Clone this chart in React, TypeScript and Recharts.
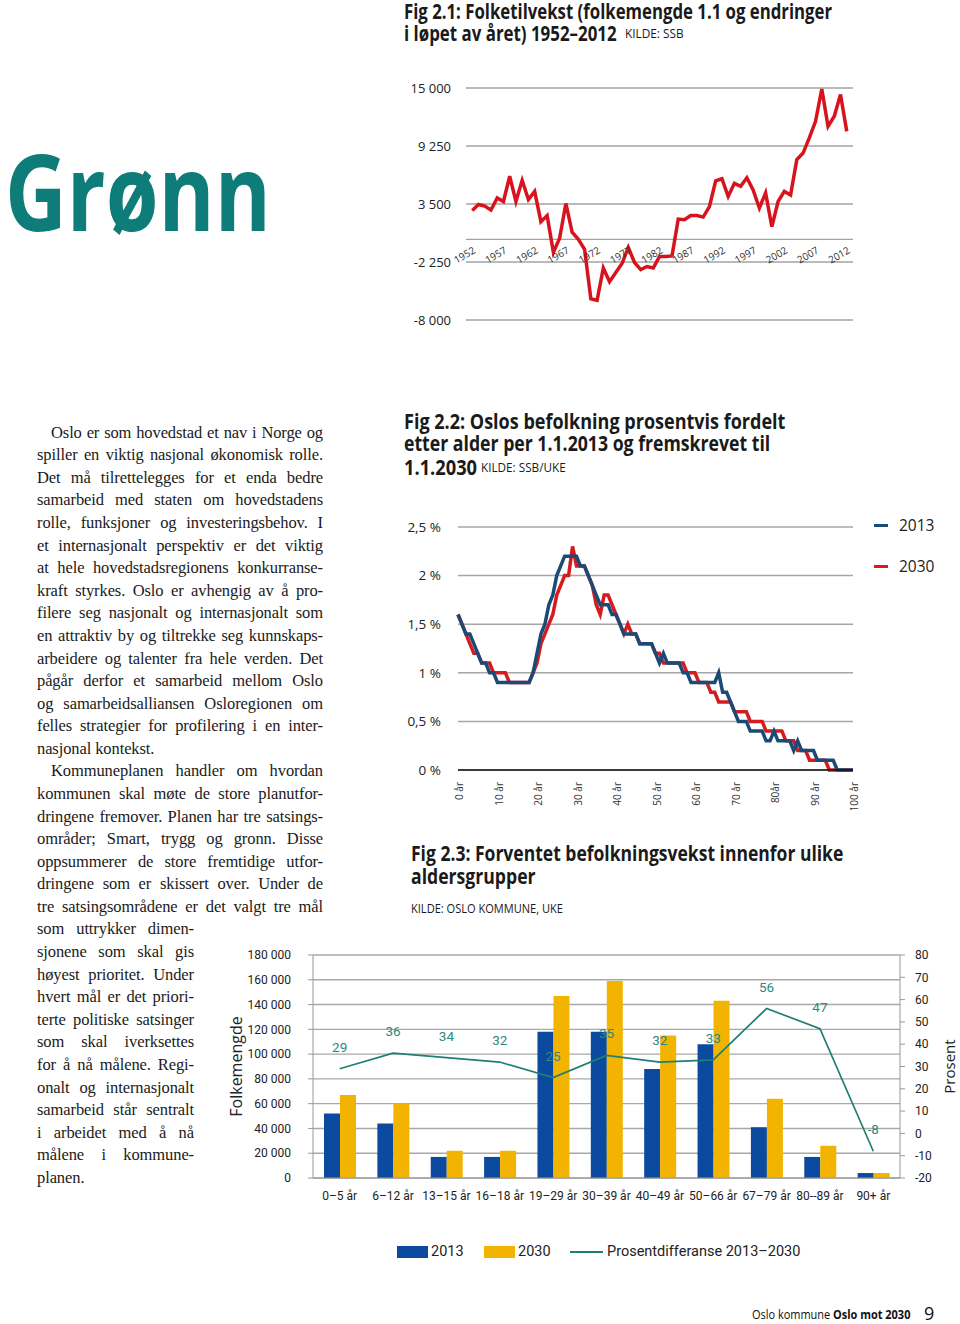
import React, { useLayoutEffect, useRef, useState } from "react";
import {
  LineChart,
  Line,
  XAxis,
  YAxis,
  CartesianGrid,
  ReferenceLine,
  ComposedChart,
  Bar,
  LabelList,
} from "recharts";

// Fig 2.1 – folketilvekst per år
const years = [
  1952, 1953, 1954, 1955, 1956, 1957, 1958, 1959, 1960, 1961, 1962, 1963, 1964,
  1965, 1966, 1967, 1968, 1969, 1970, 1971, 1972, 1973, 1974, 1975, 1976, 1977,
  1978, 1979, 1980, 1981, 1982, 1983, 1984, 1985, 1986, 1987, 1988, 1989, 1990,
  1991, 1992, 1993, 1994, 1995, 1996, 1997, 1998, 1999, 2000, 2001, 2002, 2003,
  2004, 2005, 2006, 2007, 2008, 2009, 2010, 2011, 2012,
];
const growth = [
  2850, 3450, 3300, 2900, 4100, 3750, 6250, 3750, 5850, 3950, 4750, 1750, 2350,
  -1300, 100, 3550, 700, 0, -1000, -5900, -6050, -2850, -4200, -3300, -2400, -800,
  -2300, -3000, -2700, -2850, -1700, -1700, -1650, 2000, 1950, 2350, 2350, 2200, 3250,
  5800, 6000, 4250, 5550, 5250, 6100, 4900, 3100, 4600, 1250, 3750, 4750, 4400,
  7900, 8550, 10050, 11700, 14900, 11200, 12200, 14350, 10700,
];
const growthTicks = [-8000, -2250, 3500, 9250, 15000];
const yearTicks = [1952, 1957, 1962, 1967, 1972, 1977, 1982, 1987, 1992, 1997, 2002, 2007, 2012];

// Fig 2.2 – andel av befolkningen etter alder
const ages = [
  0, 1, 2, 3, 4, 5, 6, 7, 8, 9, 10, 11, 12, 13, 14, 15, 16, 17, 18, 19, 20, 21, 22,
  23, 24, 25, 26, 27, 28, 29, 30, 31, 32, 33, 34, 35, 36, 37, 38, 39, 40, 41, 42, 43,
  44, 45, 46, 47, 48, 49, 50, 51, 52, 53, 54, 55, 56, 57, 58, 59, 60, 61, 62, 63, 64,
  65, 66, 67, 68, 69, 70, 71, 72, 73, 74, 75, 76, 77, 78, 79, 80, 81, 82, 83, 84, 85,
  86, 87, 88, 89, 90, 91, 92, 93, 94, 95, 96, 97, 98, 99, 100,
];
const share2013 = [
  1.6, 1.5, 1.4, 1.4, 1.3, 1.2, 1.1, 1.1, 1.0, 1.0, 0.9, 0.9, 0.9, 0.9, 0.9, 0.9, 0.9,
  0.9, 0.9, 1.0, 1.2, 1.4, 1.5, 1.7, 1.8, 2.0, 2.1, 2.2, 2.2, 2.2, 2.2, 2.1, 2.1, 2.0,
  1.9, 1.8, 1.7, 1.7, 1.7, 1.6, 1.6, 1.5, 1.4, 1.4, 1.4, 1.4, 1.3, 1.3, 1.3, 1.3, 1.2,
  1.1, 1.2, 1.1, 1.1, 1.1, 1.1, 1.0, 1.0, 0.9, 0.9, 0.9, 0.9, 0.9, 0.9, 0.9, 1.0, 0.8,
  0.8, 0.7, 0.6, 0.5, 0.5, 0.5, 0.4, 0.4, 0.4, 0.4, 0.3, 0.3, 0.4, 0.3, 0.3, 0.3, 0.3,
  0.2, 0.3, 0.2, 0.2, 0.2, 0.2, 0.1, 0.1, 0.1, 0.1, 0.1, 0, 0, 0, 0, 0,
];
const share2030 = [
  1.6, 1.5, 1.4, 1.3, 1.2, 1.2, 1.1, 1.1, 1.1, 1.0, 1.0, 1.0, 1.0, 0.9, 0.9, 0.9, 0.9,
  0.9, 0.9, 1.0, 1.1, 1.3, 1.4, 1.5, 1.6, 1.8, 1.9, 2.0, 2.0, 2.3, 2.1, 2.1, 2.1, 2.0,
  1.9, 1.7, 1.6, 1.8, 1.8, 1.7, 1.6, 1.5, 1.4, 1.5, 1.4, 1.4, 1.3, 1.3, 1.3, 1.3, 1.2,
  1.2, 1.1, 1.1, 1.1, 1.1, 1.1, 1.1, 1.0, 1.0, 1.0, 0.9, 0.9, 0.9, 0.8, 0.8, 0.7, 0.7,
  0.7, 0.7, 0.6, 0.6, 0.6, 0.6, 0.5, 0.5, 0.5, 0.5, 0.4, 0.4, 0.4, 0.4, 0.4, 0.3, 0.3,
  0.3, 0.2, 0.2, 0.2, 0.1, 0.1, 0.1, 0.1, 0.1, 0, 0, 0, 0, 0, 0, 0,
];
const shareTicks = [0, 0.5, 1, 1.5, 2, 2.5];
const ageTicks = [0, 10, 20, 30, 40, 50, 60, 70, 80, 90, 100];
const ageTickLabels = ["0 år", "10 år", "20 år", "30 år", "40 år", "50 år", "60 år", "70 år", "80år", "90 år", "100 år"];

// Fig 2.3 – befolkningsvekst per aldersgruppe
const groups = ["0–5 år", "6–12 år", "13–15 år", "16–18 år", "19–29 år", "30–39 år", "40–49 år", "50–66 år", "67–79 år", "80--89 år", "90+ år"];
const pop2013 = [52000, 44000, 17000, 17000, 118000, 118000, 88000, 108000, 41000, 17000, 4000];
const pop2030 = [67000, 60000, 22000, 22000, 147000, 159000, 115000, 143000, 64000, 26000, 4000];
const diffPct = [29, 36, 34, 32, 25, 35, 32, 33, 56, 47, -8];
const popTicks = [0, 20000, 40000, 60000, 80000, 100000, 120000, 140000, 160000, 180000];
const pctTicks = [-20, -10, 0, 10, 20, 30, 40, 50, 60, 70, 80];

const growthData = years.map((year, i) => ({ year, growth: growth[i] }));
const shareData = ages.map((age, i) => ({ age, y2013: share2013[i], y2030: share2030[i] }));
const groupData = groups.map((group, i) => ({ group, p2013: pop2013[i], p2030: pop2030[i], diff: diffPct[i] }));

const fmtSpace = (v: number) => {
  const s = Math.abs(v).toString().replace(/\B(?=(\d{3})+(?!\d))/g, " ");
  return (v < 0 ? "-" : "") + s;
};

const SANS = "'Open Sans', 'Noto Sans', sans-serif";
const COND = "Roboto, 'Open Sans', sans-serif";

// tekst som presses sammen til ønsket bredde
function Fit({ left, top, width, style, children }: any) {
  const ref = useRef<HTMLDivElement>(null);
  const [s, setS] = useState(1);
  useLayoutEffect(() => {
    if (ref.current && ref.current.offsetWidth) setS(width / ref.current.offsetWidth);
  }, [width]);
  return (
    <div
      ref={ref}
      style={{
        position: "absolute",
        left,
        top,
        whiteSpace: "nowrap",
        transform: `scaleX(${s})`,
        transformOrigin: "0 0",
        ...style,
      }}
    >
      {children}
    </div>
  );
}

const title = { fontFamily: SANS, fontWeight: 700, fontSize: 21, lineHeight: "22px", color: "#1a1a1a" };
const kilde = { fontFamily: SANS, fontWeight: 400, fontSize: 12, lineHeight: "22px", color: "#1a1a1a" };

// brødtekst, linje for linje
const bodyLines: [string, boolean, boolean, boolean][] = [
  // tekst, innrykk, siste linje, smal
  ["Oslo er som hovedstad et nav i Norge og", true, false, false],
  ["spiller en viktig nasjonal økonomisk rolle.", false, false, false],
  ["Det må tilrettelegges for et enda bedre", false, false, false],
  ["samarbeid med staten om hovedstadens", false, false, false],
  ["rolle, funksjoner og investeringsbehov. I", false, false, false],
  ["et internasjonalt perspektiv er det viktig", false, false, false],
  ["at hele hovedstadsregionens konkurranse-", false, false, false],
  ["kraft styrkes. Oslo er avhengig av å pro-", false, false, false],
  ["filere seg nasjonalt og internasjonalt som", false, false, false],
  ["en attraktiv by og tiltrekke seg kunnskaps-", false, false, false],
  ["arbeidere og talenter fra hele verden. Det", false, false, false],
  ["pågår derfor et samarbeid mellom Oslo", false, false, false],
  ["og samarbeidsalliansen Osloregionen om", false, false, false],
  ["felles strategier for profilering i en inter-", false, false, false],
  ["nasjonal kontekst.", false, true, false],
  ["Kommuneplanen handler om hvordan", true, false, false],
  ["kommunen skal møte de store planutfor-", false, false, false],
  ["dringene fremover. Planen har tre satsings-", false, false, false],
  ["områder; Smart, trygg og gronn. Disse", false, false, false],
  ["oppsummerer de store fremtidige utfor-", false, false, false],
  ["dringene som er skissert over.  Under de", false, false, false],
  ["tre satsingsområdene er det valgt tre mål", false, false, false],
  ["som uttrykker dimen-", false, false, true],
  ["sjonene som skal gis", false, false, true],
  ["høyest prioritet. Under", false, false, true],
  ["hvert mål er det priori-", false, false, true],
  ["terte politiske satsinger", false, false, true],
  ["som skal iverksettes", false, false, true],
  ["for å nå målene. Regi-", false, false, true],
  ["onalt og internasjonalt", false, false, true],
  ["samarbeid står sentralt", false, false, true],
  ["i arbeidet med å nå", false, false, true],
  ["målene i kommune-", false, false, true],
  ["planen.", false, true, true],
];

const YearTick = ({ x, y, payload }: any) => {
  // etikettene står ved nullinjen, ikke nederst i plottet
  const zeroShift = ((0 - -8000) / (15000 - -8000)) * 232;
  const tx = x + 4;
  const ty = y - zeroShift + 13;
  return (
    <text
      x={tx}
      y={ty}
      transform={`rotate(-30, ${tx}, ${ty})`}
      textAnchor="end"
      fontSize={10}
      fontFamily={SANS}
      fill="#333"
    >
      {payload.value}
    </text>
  );
};

const AgeTick = ({ x, y, payload }: any) => {
  const label = ageTickLabels[ageTicks.indexOf(payload.value)];
  const tx = x + 5;
  const ty = y + 12;
  return (
    <text
      x={tx}
      y={ty}
      transform={`rotate(-90, ${tx}, ${ty})`}
      textAnchor="end"
      fontSize={10}
      fontFamily={SANS}
      fill="#333"
    >
      {label}
    </text>
  );
};

export default function App() {
  return (
    <div
      style={{
        position: "absolute",
        left: 0,
        top: 0,
        width: 960,
        height: 1324,
        background: "#fff",
        overflow: "hidden",
      }}
    >
      {/* Grønn */}
      <Fit left={5} top={130} width={266} style={{ fontFamily: SANS, fontWeight: 700, fontSize: 106, lineHeight: "120px", color: "#0e7c78" }}>
        Grønn
      </Fit>

      {/* Fig 2.1 */}
      <Fit left={404} top={0} width={428} style={title}>
        Fig 2.1: Folketilvekst (folkemengde 1.1 og endringer
      </Fit>
      <Fit left={404} top={22} width={213} style={title}>
        i løpet av året) 1952–2012
      </Fit>
      <Fit left={625} top={23} width={59} style={kilde}>
        KILDE: SSB
      </Fit>
      <div style={{ position: "absolute", left: 400, top: 78 }}>
        <LineChart width={460} height={257} data={growthData} margin={{ top: 10, right: 7, bottom: 0, left: 0 }}>
          <CartesianGrid vertical={false} stroke="#a3a3a3" strokeWidth={1.3} />
          <XAxis
            dataKey="year"
            type="number"
            domain={[1951, 2013]}
            ticks={yearTicks}
            height={15}
            axisLine={false}
            tickLine={false}
            tickSize={0}
            tickMargin={0}
            tick={<YearTick />}
            interval={0}
          />
          <YAxis
            domain={[-8000, 15000]}
            ticks={growthTicks}
            width={66}
            axisLine={false}
            tickLine={false}
            tickSize={0}
            tickMargin={15}
            tickFormatter={fmtSpace}
            tick={{ fontSize: 13, fontFamily: SANS, fill: "#222" }}
          />
          <ReferenceLine y={0} stroke="#a3a3a3" strokeWidth={1.3} />
          <Line type="linear" dataKey="growth" stroke="#d7141e" strokeWidth={3.5} dot={false} isAnimationActive={false} />
        </LineChart>
      </div>

      {/* brødtekst */}
      {bodyLines.map(([text, indent, last, narrow], i) => {
        const left = indent ? 51 : 37;
        const right = narrow ? 194 : 323;
        return (
          <div
            key={i}
            style={{
              position: "absolute",
              left,
              top: 421.7 + i * 22.58,
              width: right - left,
              fontFamily: "'Liberation Serif', 'Times New Roman', serif",
              fontSize: 16.5,
              letterSpacing: -0.1,
              lineHeight: "22.58px",
              color: "#1a1a1a",
              textAlign: last ? "left" : "justify",
              textAlignLast: last ? "left" : "justify",
            }}
          >
            {text}
          </div>
        );
      })}

      {/* Fig 2.2 */}
      <Fit left={404} top={410} width={381} style={title}>
        Fig 2.2: Oslos befolkning prosentvis fordelt
      </Fit>
      <Fit left={404} top={432} width={366} style={title}>
        etter alder per 1.1.2013 og fremskrevet til
      </Fit>
      <Fit left={404} top={456} width={73} style={title}>
        1.1.2030
      </Fit>
      <Fit left={481} top={457} width={85} style={kilde}>
        KILDE: SSB/UKE
      </Fit>
      <div style={{ position: "absolute", left: 400, top: 517 }}>
        <LineChart width={470} height={293} data={shareData} margin={{ top: 10, right: 17, bottom: 0, left: 0 }}>
          <CartesianGrid vertical={false} stroke="#a6a6a6" strokeWidth={1.5} />
          <XAxis
            dataKey="age"
            type="number"
            domain={[0, 100]}
            ticks={ageTicks}
            height={40}
            axisLine={{ stroke: "#111", strokeWidth: 1.5 }}
            tickLine={false}
            tickSize={0}
            tickMargin={0}
            tick={<AgeTick />}
            interval={0}
          />
          <YAxis
            domain={[0, 2.5]}
            ticks={shareTicks}
            width={58}
            axisLine={false}
            tickLine={false}
            tickSize={0}
            tickMargin={17}
            tickFormatter={(v: number) => `${String(v).replace(".", ",")} %`}
            tick={{ fontSize: 13.5, fontFamily: SANS, fill: "#222" }}
          />
          <Line type="linear" dataKey="y2030" stroke="#d51a20" strokeWidth={3.5} dot={false} isAnimationActive={false} />
          <Line type="linear" dataKey="y2013" stroke="#1a4b76" strokeWidth={3.5} dot={false} isAnimationActive={false} />
        </LineChart>
      </div>
      <div style={{ position: "absolute", left: 874, top: 524, width: 14, height: 3, background: "#1a4b76" }} />
      <div style={{ position: "absolute", left: 899, top: 514, fontFamily: SANS, fontSize: 15.5, lineHeight: "22px", color: "#222" }}>2013</div>
      <div style={{ position: "absolute", left: 874, top: 565, width: 14, height: 3, background: "#d51a20" }} />
      <div style={{ position: "absolute", left: 899, top: 555, fontFamily: SANS, fontSize: 15.5, lineHeight: "22px", color: "#222" }}>2030</div>

      {/* Fig 2.3 */}
      <Fit left={411} top={842} width={432} style={title}>
        Fig 2.3: Forventet befolkningsvekst innenfor ulike
      </Fit>
      <Fit left={411} top={865} width={125} style={title}>
        aldersgrupper
      </Fit>
      <Fit left={411} top={898} width={152} style={kilde}>
        KILDE: OSLO KOMMUNE, UKE
      </Fit>
      <div style={{ position: "absolute", left: 220, top: 945 }}>
        <ComposedChart
          width={740}
          height={270}
          data={groupData}
          margin={{ top: 10, right: 0, bottom: 0, left: 0 }}
          barCategoryGap={11}
          barGap={0}
        >
          <CartesianGrid vertical={false} stroke="#a8a8a8" strokeWidth={1.4} yAxisId="left" />
          <XAxis
            dataKey="group"
            height={37}
            interval={0}
            axisLine={{ stroke: "#999" }}
            tickLine={false}
            tickSize={0}
            tickMargin={13}
            tick={{ fontSize: 12, fontFamily: COND, fill: "#222" }}
          />
          <YAxis
            yAxisId="left"
            domain={[0, 180000]}
            ticks={popTicks}
            width={93}
            axisLine={{ stroke: "#999" }}
            tickLine={{ stroke: "#999" }}
            tickSize={5}
            tickMargin={17}
            tickFormatter={fmtSpace}
            tick={{ fontSize: 12, fontFamily: COND, fill: "#222" }}
            label={{
              value: "Folkemengde",
              angle: -90,
              position: "insideLeft",
              offset: 16,
              style: { textAnchor: "middle", fontSize: 16, fontFamily: SANS, fill: "#222" },
            }}
          />
          <YAxis
            yAxisId="right"
            orientation="right"
            domain={[-20, 80]}
            ticks={pctTicks}
            width={60}
            axisLine={{ stroke: "#999" }}
            tickLine={{ stroke: "#999" }}
            tickSize={5}
            tickMargin={10}
            tick={{ fontSize: 12, fontFamily: COND, fill: "#222" }}
            label={{
              value: "Prosent",
              angle: -90,
              position: "insideRight",
              offset: 10,
              style: { textAnchor: "middle", fontSize: 15, fontFamily: SANS, fill: "#222" },
            }}
          />
          <Bar yAxisId="left" dataKey="p2013" fill="#0b4a9e" isAnimationActive={false} />
          <Bar yAxisId="left" dataKey="p2030" fill="#f2b400" isAnimationActive={false} />
          <Line yAxisId="right" type="linear" dataKey="diff" stroke="#1e8073" strokeWidth={1.7} dot={false} isAnimationActive={false}>
            <LabelList dataKey="diff" position="top" offset={17} fill="#2b8a80" fontSize={13.5} fontFamily={COND} />
          </Line>
        </ComposedChart>
      </div>
      {/* forklaring */}
      <div style={{ position: "absolute", left: 397, top: 1246, width: 31, height: 12, background: "#0b4a9e" }} />
      <div style={{ position: "absolute", left: 431, top: 1242, fontFamily: COND, fontSize: 14.5, lineHeight: "20px", color: "#222" }}>2013</div>
      <div style={{ position: "absolute", left: 484, top: 1246, width: 31, height: 12, background: "#f2b400" }} />
      <div style={{ position: "absolute", left: 518, top: 1242, fontFamily: COND, fontSize: 14.5, lineHeight: "20px", color: "#222" }}>2030</div>
      <div style={{ position: "absolute", left: 570, top: 1251, width: 33, height: 2, background: "#1e8073" }} />
      <div style={{ position: "absolute", left: 607, top: 1242, fontFamily: COND, fontSize: 14.5, lineHeight: "20px", color: "#222" }}>
        Prosentdifferanse 2013–2030
      </div>

      {/* bunntekst */}
      <Fit left={752} top={1307} width={158} style={{ fontFamily: SANS, fontSize: 12, lineHeight: "16px", color: "#111" }}>
        Oslo kommune <b>Oslo mot 2030</b>
      </Fit>
      <div style={{ position: "absolute", left: 924, top: 1303, fontFamily: SANS, fontSize: 18, lineHeight: "20px", color: "#111" }}>9</div>
    </div>
  );
}
